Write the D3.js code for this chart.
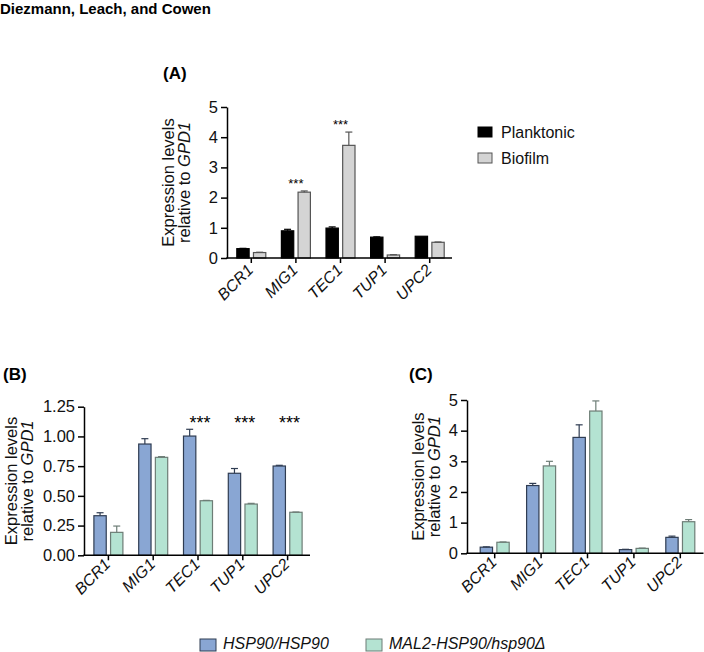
<!DOCTYPE html>
<html>
<head>
<meta charset="utf-8">
<script src="https://cdn.jsdelivr.net/npm/d3@7"></script>
<style>
  html, body { margin: 0; padding: 0; background: #fff; }
  svg { display: block; font-family: Arial, "Liberation Sans", sans-serif; }
</style>
</head>
<body>
<svg id="chart" width="704" height="652"></svg>
<script>
// ---------- DATA ----------
const genes = ["BCR1", "MIG1", "TEC1", "TUP1", "UPC2"];

// Panel A
const planktonic    = [0.31, 0.90, 0.99, 0.69, 0.72];
const planktonicErr = [0.01, 0.05, 0.04, 0.01, 0.00];
const biofilm       = [0.18, 2.18, 3.73, 0.10, 0.52];
const biofilmErr    = [0.01, 0.04, 0.44, 0.01, 0.01];
const sigA          = ["", "***", "***", "", ""];
const ticksA        = [0, 1, 2, 3, 4, 5];

// Panel B
const wildTypeB    = [0.333, 0.936, 1.003, 0.690, 0.751];
const wildTypeBErr = [0.025, 0.045, 0.057, 0.040, 0.006];
const mutantB      = [0.193, 0.824, 0.459, 0.431, 0.362];
const mutantBErr   = [0.053, 0.006, 0.003, 0.006, 0.002];
const sigB         = ["", "", "***", "***", "***"];
const ticksB       = [0, 0.25, 0.5, 0.75, 1.0, 1.25];

// Panel C
const wildTypeC    = [0.20, 2.21, 3.78, 0.12, 0.52];
const wildTypeCErr = [0.01, 0.07, 0.41, 0.01, 0.04];
const mutantC      = [0.36, 2.85, 4.64, 0.16, 1.03];
const mutantCErr   = [0.01, 0.15, 0.33, 0.01, 0.07];
const ticksC       = [0, 1, 2, 3, 4, 5];

const seriesA = ["Planktonic", "Biofilm"];
const seriesBC = ["HSP90/HSP90", "MAL2-HSP90/hsp90Δ"];

// ---------- STYLE ----------
const FONT = 'Arial, "Liberation Sans", sans-serif';
const styleA = [
  { fill: "#000000", stroke: "#000000" },
  { fill: "#d4d4d4", stroke: "#555555" }
];
const styleBC = [
  { fill: "#89a6d3", stroke: "#2f3c52" },
  { fill: "#b4e3d2", stroke: "#6d7d76" }
];

const svg = d3.select("#chart");

svg.append("text")
  .attr("x", 0).attr("y", 14)
  .attr("font-size", 15).attr("font-weight", "bold")
  .text("Diezmann, Leach, and Cowen");

function panel(cfg) {
  const g = svg.append("g");
  const x = d3.scaleBand().domain(genes).range(cfg.xRange).padding(0);
  const y = d3.scaleLinear().domain(cfg.yDomain).range(cfg.yRange);
  const sub = d3.scaleBand().domain([0, 1]).range([-14.5, 14.5]).paddingInner(0.26);

  // bars
  cfg.series.forEach((vals, si) => {
    const errs = cfg.errs[si];
    const st = cfg.styles[si];
    const bw = sub.bandwidth();
    genes.forEach((gname, i) => {
      const cx = x(gname) + x.bandwidth() / 2;
      const bx = cx + sub(si);
      g.append("rect")
        .attr("x", bx).attr("y", y(vals[i]))
        .attr("width", bw).attr("height", y(0) - y(vals[i]))
        .attr("fill", st.fill).attr("stroke", st.stroke).attr("stroke-width", 1.2);
      if (errs[i] > 0) {
        const mx = bx + bw / 2;
        g.append("line")
          .attr("x1", mx).attr("x2", mx)
          .attr("y1", y(vals[i])).attr("y2", y(vals[i] + errs[i]))
          .attr("stroke", st.stroke).attr("stroke-width", 1.2);
        g.append("line")
          .attr("x1", mx - 3.5).attr("x2", mx + 3.5)
          .attr("y1", y(vals[i] + errs[i])).attr("y2", y(vals[i] + errs[i]))
          .attr("stroke", st.stroke).attr("stroke-width", 1.2);
      }
    });
  });

  // y axis
  const yAxis = g.append("g")
    .attr("transform", `translate(${cfg.yAxisX},0)`)
    .call(d3.axisLeft(y).tickValues(cfg.ticks).tickFormat(cfg.fmt).tickSize(6).tickSizeOuter(0).tickPadding(3));
  yAxis.select(".domain").attr("stroke-width", 1.5);
  yAxis.selectAll(".tick line").attr("stroke-width", 1.5);
  yAxis.selectAll("text").attr("font-size", 16.5).attr("font-family", FONT).attr("fill", "#111");

  // x axis
  const xAxis = g.append("g")
    .attr("transform", `translate(0,${y(0)})`)
    .call(d3.axisBottom(x).tickSize(5).tickSizeOuter(0));
  xAxis.select(".domain").remove();
  xAxis.selectAll(".tick line").attr("stroke-width", 1.5);
  xAxis.selectAll("text")
    .attr("font-size", 16).attr("font-style", "italic").attr("font-family", FONT).attr("fill", "#111")
    .attr("text-anchor", "end")
    .attr("x", 0).attr("y", 0).attr("dy", 0)
    .attr("transform", `translate(3,${cfg.labelDy}) rotate(-45)`);
  g.append("line")
    .attr("x1", cfg.yAxisX - 0.75).attr("x2", cfg.xRange[1])
    .attr("y1", y(0)).attr("y2", y(0))
    .attr("stroke", "#000").attr("stroke-width", 1.5);

  // y label
  const midY = (cfg.yRange[0] + cfg.yRange[1]) / 2;
  const t1 = g.append("text")
    .attr("transform", `translate(${cfg.ylabX},${midY}) rotate(-90)`)
    .attr("text-anchor", "middle").attr("font-size", 16.5).attr("dy", "0.35em").attr("fill", "#111")
    .text("Expression levels");
  const t2 = g.append("text")
    .attr("transform", `translate(${cfg.ylabX + 16.5},${midY}) rotate(-90)`)
    .attr("text-anchor", "middle").attr("font-size", 16.5).attr("dy", "0.35em").attr("fill", "#111");
  t2.append("tspan").text("relative to ");
  t2.append("tspan").attr("font-style", "italic").text("GPD1");

  // panel label
  g.append("text")
    .attr("x", cfg.labX).attr("y", cfg.labY)
    .attr("font-size", 17).attr("font-weight", "bold")
    .text(cfg.label);

  return { g, x, y };
}

// Panel A
const pA = panel({
  xRange: [229, 452], yAxisX: 227, yDomain: [0, 5], yRange: [258, 107],
  ticks: ticksA, fmt: d3.format("d"),
  series: [planktonic, biofilm], errs: [planktonicErr, biofilmErr], styles: styleA,
  labelDy: 13, ylabX: 168, labX: 163, labY: 79, label: "(A)"
});
genes.forEach((gname, i) => {
  if (!sigA[i]) return;
  const top = Math.max(planktonic[i] + planktonicErr[i], biofilm[i] + biofilmErr[i]);
  pA.g.append("text")
    .attr("x", pA.x(gname) + pA.x.bandwidth() / 2)
    .attr("y", pA.y(top) - 3)
    .attr("text-anchor", "middle").attr("font-size", 13)
    .text(sigA[i]);
});
// Legend A
seriesA.forEach((name, i) => {
  pA.g.append("rect")
    .attr("x", 478).attr("y", 127 + i * 26).attr("width", 14).attr("height", 10)
    .attr("fill", styleA[i].fill).attr("stroke", styleA[i].stroke).attr("stroke-width", 1);
  pA.g.append("text")
    .attr("x", 501).attr("y", 138 + i * 26)
    .attr("font-size", 16).attr("fill", "#111")
    .text(name);
});

// Panel B
const pB = panel({
  xRange: [86, 310], yAxisX: 84, yDomain: [0, 1.25], yRange: [555.3, 406.7],
  ticks: ticksB, fmt: d3.format(".2f"),
  series: [wildTypeB, mutantB], errs: [wildTypeBErr, mutantBErr], styles: styleBC,
  labelDy: 10, ylabX: 11, labX: 3, labY: 380, label: "(B)"
});
genes.forEach((gname, i) => {
  if (!sigB[i]) return;
  pB.g.append("text")
    .attr("x", pB.x(gname) + pB.x.bandwidth() / 2 + 2)
    .attr("y", pB.y(1.066))
    .attr("text-anchor", "middle").attr("font-size", 18)
    .text(sigB[i]);
});

// Panel C
panel({
  xRange: [471.5, 703.5], yAxisX: 467, yDomain: [0, 5], yRange: [553.3, 400],
  ticks: ticksC, fmt: d3.format("d"),
  series: [wildTypeC, mutantC], errs: [wildTypeCErr, mutantCErr], styles: styleBC,
  labelDy: 10, ylabX: 418, labX: 409, labY: 380, label: "(C)"
});

// Bottom legend
const legX = [200, 366];
const legText = [["HSP90/HSP90"], ["MAL2-HSP90/hsp90Δ"]];
seriesBC.forEach((name, i) => {
  svg.append("rect")
    .attr("x", legX[i]).attr("y", 639).attr("width", 16).attr("height", 12)
    .attr("fill", styleBC[i].fill).attr("stroke", styleBC[i].stroke).attr("stroke-width", 1);
  svg.append("text")
    .attr("x", legX[i] + 23).attr("y", 649)
    .attr("font-size", 16).attr("font-style", "italic").attr("fill", "#111")
    .text(name);
});
</script>
</body>
</html>
